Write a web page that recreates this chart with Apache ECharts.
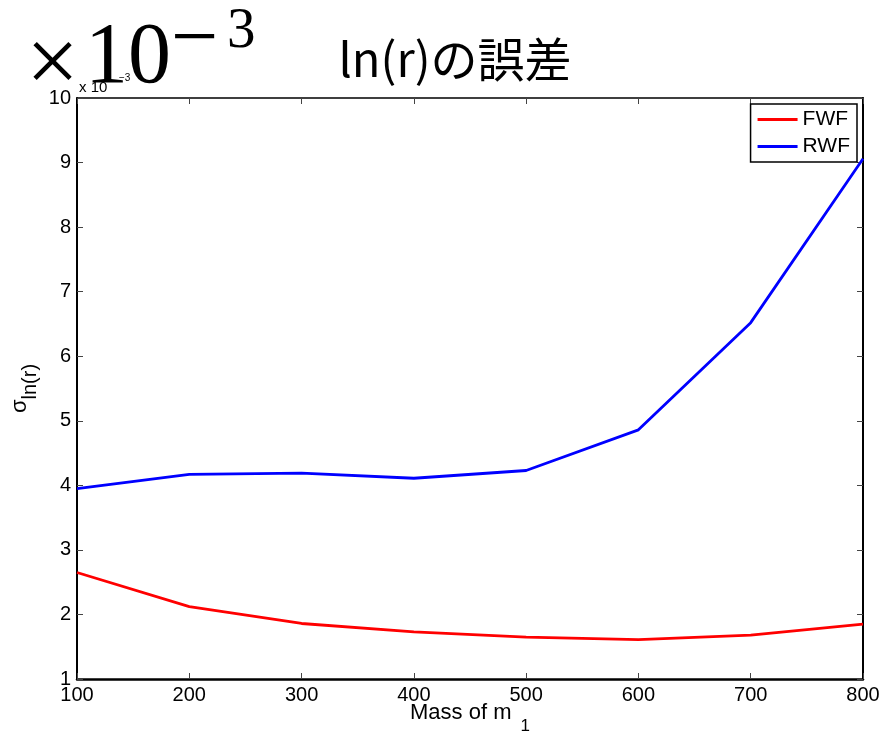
<!DOCTYPE html>
<html>
<head>
<meta charset="utf-8">
<script src="https://cdn.jsdelivr.net/npm/echarts@6/dist/echarts.min.js"></script>
<style>html,body{margin:0;padding:0;background:#fff;}#c{width:879px;height:732px;}</style>
</head>
<body>
<div id="c"></div>
<script>
const masses = [100, 200, 300, 400, 500, 600, 700, 800];
const fwf = [2.65, 2.12, 1.86, 1.73, 1.65, 1.61, 1.68, 1.85];
const rwf = [3.95, 4.17, 4.19, 4.11, 4.23, 4.86, 6.52, 9.06];
const seriesNames = ['FWF', 'RWF'];
const titleText = 'ln(r)の誤差';

const chart = echarts.init(document.getElementById('c'));
const sans = 'Liberation Sans';
const serif = 'Liberation Serif';
const toPairs = (vals) => masses.map((m, i) => [m, vals[i]]);

const mirrorAxisCommon = {
  axisLabel: { show: false },
  splitLine: { show: false }
};

chart.setOption({
  animation: false,
  backgroundColor: '#fff',
  title: [
    { text: titleText, left: 450, top: 31, textAlign: 'center',
      textStyle: { fontFamily: 'Noto Sans CJK JP', fontSize: 47, fontWeight: 'normal', color: '#000' } },
    { text: '×', left: 21, top: 15,
      textStyle: { fontFamily: serif, fontSize: 94, fontWeight: 'normal', color: '#000' } },
    { text: '10', left: 80, top: 11,
      textStyle: { fontFamily: serif, fontSize: 86, fontWeight: 'normal', color: '#000' } },
    { text: '−', left: 166, top: -5,
      textStyle: { fontFamily: serif, fontSize: 84, fontWeight: 'normal', color: '#000' } },
    { text: '3', left: 222, top: -1,
      textStyle: { fontFamily: serif, fontSize: 57, fontWeight: 'normal', color: '#000' } },
    { text: 'x 10', left: 74, top: 75,
      textStyle: { fontFamily: sans, fontSize: 15, fontWeight: 'normal', color: '#000' } },
    { text: '−3', left: 114, top: 68,
      textStyle: { fontFamily: sans, fontSize: 10, fontWeight: 'normal', color: '#000' } }
  ],
  legend: {
    data: seriesNames,
    orient: 'vertical',
    right: 22, top: 104,
    padding: [5, 7, 5, 7],
    icon: 'path://M0,0H40V3H0Z',
    itemWidth: 40, itemHeight: 3, itemGap: 6,
    backgroundColor: '#fff',
    borderColor: '#000', borderWidth: 1.5,
    textStyle: { fontFamily: sans, fontSize: 21, color: '#000', lineHeight: 20, padding: [0, 0, 0, 0] }
  },
  grid: { left: 77, right: 16, top: 98, bottom: 53, outerBoundsMode: 'none', containLabel: false },
  xAxis: [
    { type: 'value', min: 100, max: 800, interval: 100, position: 'bottom',
      name: '{n|Mass of m}{sub|1}', nameLocation: 'middle', nameGap: 23, nameMoveOverlap: false,
      nameTextStyle: { rich: {
        n: { fontFamily: sans, fontSize: 22, color: '#000', lineHeight: 22, verticalAlign: 'top' },
        sub: { fontFamily: sans, fontSize: 17, color: '#000', lineHeight: 49, padding: [0, 0, 0, 9] }
      } },
      axisLine: { lineStyle: { color: '#000', width: 2.5 } },
      axisTick: { inside: true, length: 6, lineStyle: { color: '#444', width: 1 } },
      axisLabel: { fontFamily: sans, fontSize: 20, color: '#000', margin: 6 },
      splitLine: { show: false } },
    Object.assign({ type: 'value', min: 100, max: 800, interval: 100, position: 'top',
      axisLine: { lineStyle: { color: '#000', width: 1.5 } },
      axisTick: { inside: true, length: 6, lineStyle: { color: '#444', width: 1 } } }, mirrorAxisCommon)
  ],
  yAxis: [
    { type: 'value', min: 1, max: 10, interval: 1, position: 'left',
      name: '{s|σ}{sub|ln(r)}', nameLocation: 'middle', nameGap: 26, nameRotate: 90, nameMoveOverlap: false,
      nameTextStyle: { rich: {
        s: { fontFamily: sans, fontSize: 22, color: '#000', lineHeight: 22, verticalAlign: 'top' },
        sub: { fontFamily: sans, fontSize: 20, color: '#000', lineHeight: 42 }
      } },
      axisLine: { show: true, lineStyle: { color: '#000', width: 2 } },
      axisTick: { show: true, inside: true, length: 6, lineStyle: { color: '#444', width: 1 } },
      axisLabel: { fontFamily: sans, fontSize: 20, color: '#000', margin: 6 },
      splitLine: { show: false } },
    Object.assign({ type: 'value', min: 1, max: 10, interval: 1, position: 'right',
      axisLine: { show: true, lineStyle: { color: '#000', width: 2 } },
      axisTick: { show: true, inside: true, length: 6, lineStyle: { color: '#444', width: 1 } } }, mirrorAxisCommon)
  ],
  series: [
    { name: seriesNames[0], type: 'line', data: toPairs(fwf), symbol: 'none',
      lineStyle: { color: '#ff0000', width: 2.8 }, itemStyle: { color: '#ff0000' } },
    { name: seriesNames[1], type: 'line', data: toPairs(rwf), symbol: 'none',
      lineStyle: { color: '#0000ff', width: 2.8 }, itemStyle: { color: '#0000ff' } }
  ]
});
</script>
</body>
</html>
